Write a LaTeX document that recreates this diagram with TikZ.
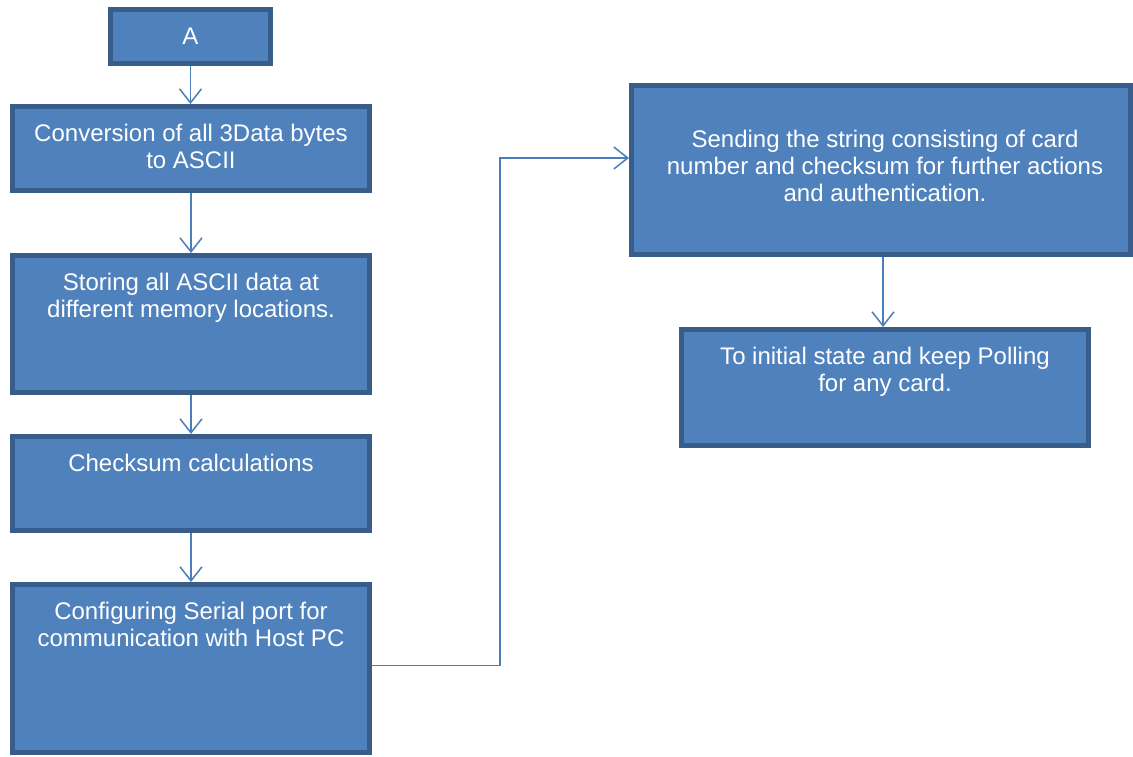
\documentclass[tikz,border=0pt]{standalone}
\usepackage{fontspec}
\setmainfont{Liberation Sans}
\usetikzlibrary{arrows.meta}
\definecolor{boxfill}{HTML}{4F81BD}
\definecolor{boxline}{HTML}{385D8A}
\definecolor{arrcol}{HTML}{4A7EBB}
\tikzset{
  box/.style={draw=boxline, fill=boxfill, line width=5pt, anchor=north west, inner sep=0pt},
  txt/.style={text=white, align=center, anchor=north, inner sep=0pt, font=\fontsize{24}{27}\selectfont},
  arr/.style={draw=arrcol, line width=1.5pt, -{Straight Barb[length=14pt,width=22pt,line width=1.5pt]}}
}
\begin{document}
\begin{tikzpicture}[x=1pt,y=-1pt]
\useasboundingbox[fill=white] (0,0) rectangle (1133,757);
% boxes (outer extents in px)
\node[box, minimum width=160pt, minimum height=54pt, text=white, font=\fontsize{24}{27}\selectfont] (a) at (108,7) {A};
\node[box, minimum width=357pt, minimum height=84pt] (b1) at (10,104) {};
\node[box, minimum width=357pt, minimum height=137pt] (b2) at (10,253) {};
\node[box, minimum width=357pt, minimum height=94pt] (b3) at (10,434) {};
\node[box, minimum width=357pt, minimum height=168pt] (b4) at (10,582) {};
\node[box, minimum width=499pt, minimum height=169pt] (r1) at (629,83) {};
\node[box, minimum width=407pt, minimum height=116pt] (r2) at (679,327) {};
% texts
\node[txt] (t1) at (191,123.5) {Conversion of all 3Data bytes\\to ASCII};
\node[txt] (t2) at (191,272.5) {Storing all ASCII data at\\different memory locations.};
\node[txt] (t3) at (191,453.5) {Checksum calculations};
\node[txt] (t4) at (191,601.5) {Configuring Serial port for\\communication with Host PC};
\node[txt] (t5) at (885,129.5) {Sending the string consisting of card\\number and checksum for further actions\\and authentication.};
\node[txt] (t6) at (885,346.5) {To initial state and keep Polling\\for any card.};
% connectors
\draw[arr] (a.south) -- (a.south |- b1.north);
\draw[arr] (b1.south) -- (b1.south |- b2.north);
\draw[arr] (b2.south) -- (b2.south |- b3.north);
\draw[arr] (b3.south) -- (b3.south |- b4.north);
\draw[arr] ([yshift=3pt]b4.east) -- ++(128,0) |- ([yshift=12pt]r1.west);
\draw[arr] ([xshift=2pt]r1.south) -- ([xshift=2pt]r1.south |- r2.north);
\end{tikzpicture}
\end{document}
